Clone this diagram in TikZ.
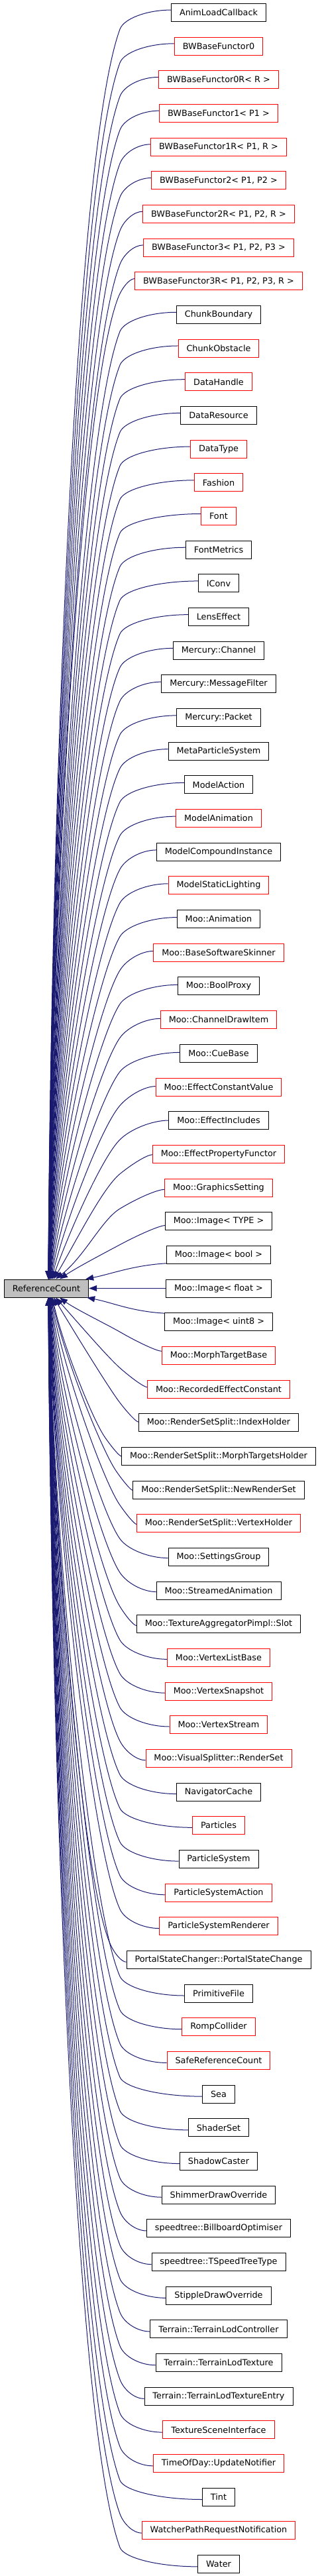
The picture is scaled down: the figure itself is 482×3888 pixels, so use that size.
\documentclass[tikz,border=0pt]{standalone}
\usepackage{fontspec}
\setmainfont{DejaVu Sans}
\usepackage{xcolor}
\usepackage{tikz}
\usetikzlibrary{arrows.meta,positioning,calc}

\definecolor{edgeblue}{HTML}{191970}
\definecolor{rootgray}{HTML}{BFBFBF}

\begin{document}
\begin{tikzpicture}[x=1pt, y=1pt, node distance=50.67pt,
  font=\fontsize{12.8}{15}\selectfont,
  cls/.style={draw=black, line width=0.9pt, rectangle, minimum height=27pt, inner xsep=12.5pt},
  redcls/.style={cls, draw=red},
  rootcls/.style={cls, fill=rootgray},
  inh/.style={draw=edgeblue, line width=1pt, -{Triangle[length=12pt,width=9pt]}, edgeblue}]
\useasboundingbox (0,0) rectangle (482,-3888);
\node[cls] (alc) at (330,-19) {AnimLoadCallback};
\node[redcls, below of=alc] (bf0) {BWBaseFunctor0};
\node[redcls, below of=bf0] (bf0r) {BWBaseFunctor0R< R >};
\node[redcls, below of=bf0r] (bf1) {BWBaseFunctor1< P1 >};
\node[redcls, below of=bf1] (bf1r) {BWBaseFunctor1R< P1, R >};
\node[redcls, below of=bf1r] (bf2) {BWBaseFunctor2< P1, P2 >};
\node[redcls, below of=bf2] (bf2r) {BWBaseFunctor2R< P1, P2, R >};
\node[redcls, below of=bf2r] (bf3) {BWBaseFunctor3< P1, P2, P3 >};
\node[redcls, below of=bf3] (bf3r) {BWBaseFunctor3R< P1, P2, P3, R >};
\node[cls, below of=bf3r] (chb) {ChunkBoundary};
\node[redcls, below of=chb] (cho) {ChunkObstacle};
\node[redcls, below of=cho] (dh) {DataHandle};
\node[cls, below of=dh] (dr) {DataResource};
\node[redcls, below of=dr] (dt) {DataType};
\node[redcls, below of=dt] (fsh) {Fashion};
\node[redcls, below of=fsh] (fnt) {Font};
\node[cls, below of=fnt] (fm) {FontMetrics};
\node[cls, below of=fm] (icv) {IConv};
\node[cls, below of=icv] (le) {LensEffect};
\node[cls, below of=le] (mch) {Mercury::Channel};
\node[cls, below of=mch] (mmf) {Mercury::MessageFilter};
\node[cls, below of=mmf] (mpk) {Mercury::Packet};
\node[cls, below of=mpk] (mps) {MetaParticleSystem};
\node[cls, below of=mps] (mac) {ModelAction};
\node[redcls, below of=mac] (man) {ModelAnimation};
\node[cls, below of=man] (mci) {ModelCompoundInstance};
\node[redcls, below of=mci] (msl) {ModelStaticLighting};
\node[cls, below of=msl] (moa) {Moo::Animation};
\node[redcls, below of=moa] (bss) {Moo::BaseSoftwareSkinner};
\node[cls, below of=bss] (bp) {Moo::BoolProxy};
\node[redcls, below of=bp] (cdi) {Moo::ChannelDrawItem};
\node[cls, below of=cdi] (cub) {Moo::CueBase};
\node[redcls, below of=cub] (ecv) {Moo::EffectConstantValue};
\node[cls, below of=ecv] (einc) {Moo::EffectIncludes};
\node[redcls, below of=einc] (epf) {Moo::EffectPropertyFunctor};
\node[redcls, below of=epf] (gs) {Moo::GraphicsSetting};
\node[cls, below of=gs] (imt) {Moo::Image< TYPE >};
\node[cls, below of=imt] (imb) {Moo::Image< bool >};
\node[cls, below of=imb] (imf) {Moo::Image< float >};
\node[cls, below of=imf] (imu) {Moo::Image< uint8 >};
\node[redcls, below of=imu] (mtb) {Moo::MorphTargetBase};
\node[redcls, below of=mtb] (rec) {Moo::RecordedEffectConstant};
\node[cls, below of=rec] (rih) {Moo::RenderSetSplit::IndexHolder};
\node[cls, below of=rih] (rmh) {Moo::RenderSetSplit::MorphTargetsHolder};
\node[cls, below of=rmh] (rnr) {Moo::RenderSetSplit::NewRenderSet};
\node[redcls, below of=rnr] (rvh) {Moo::RenderSetSplit::VertexHolder};
\node[cls, below of=rvh] (sg) {Moo::SettingsGroup};
\node[cls, below of=sg] (sa) {Moo::StreamedAnimation};
\node[cls, below of=sa] (tas) {Moo::TextureAggregatorPimpl::Slot};
\node[redcls, below of=tas] (vlb) {Moo::VertexListBase};
\node[redcls, below of=vlb] (vsn) {Moo::VertexSnapshot};
\node[redcls, below of=vsn] (vst) {Moo::VertexStream};
\node[redcls, below of=vst] (vsr) {Moo::VisualSplitter::RenderSet};
\node[cls, below of=vsr] (nc) {NavigatorCache};
\node[redcls, below of=nc] (pts) {Particles};
\node[cls, below of=pts] (ps) {ParticleSystem};
\node[redcls, below of=ps] (psa) {ParticleSystemAction};
\node[redcls, below of=psa] (psr) {ParticleSystemRenderer};
\node[cls, below of=psr] (pscg) {PortalStateChanger::PortalStateChange};
\node[cls, below of=pscg] (pf) {PrimitiveFile};
\node[redcls, below of=pf] (rmc) {RompCollider};
\node[redcls, below of=rmc] (src) {SafeReferenceCount};
\node[cls, below of=src] (sea) {Sea};
\node[cls, below of=sea] (ss) {ShaderSet};
\node[cls, below of=ss] (sc) {ShadowCaster};
\node[cls, below of=sc] (sdo) {ShimmerDrawOverride};
\node[cls, below of=sdo] (sbo) {speedtree::BillboardOptimiser};
\node[cls, below of=sbo] (stt) {speedtree::TSpeedTreeType};
\node[cls, below of=stt] (stdo) {StippleDrawOverride};
\node[cls, below of=stdo] (tlc) {Terrain::TerrainLodController};
\node[cls, below of=tlc] (tlt) {Terrain::TerrainLodTexture};
\node[cls, below of=tlt] (tle) {Terrain::TerrainLodTextureEntry};
\node[redcls, below of=tle] (tsi) {TextureSceneInterface};
\node[redcls, below of=tsi] (tun) {TimeOfDay::UpdateNotifier};
\node[cls, below of=tun] (tnt) {Tint};
\node[redcls, below of=tnt] (wpr) {WatcherPathRequestNotification};
\node[cls, below of=wpr] (wtr) {Water};
\node[rootcls, left of=imf, node distance=260pt] (rc) {ReferenceCount};
% classes above the base
\foreach \nm [count=\k] in {alc,bf0,bf0r,bf1,bf1r,bf2,bf2r,bf3,bf3r,chb,cho,dh,dr,dt,fsh,fnt,fm,icv,le,mch,mmf,mpk,mps,mac,man,mci,msl,moa,bss,bp,cdi,cub,ecv,einc,epf,gs,imt} {
  \pgfmathsetmacro{\xo}{2+36/(39-\k)}
  \pgfmathsetmacro{\yo}{4.5-22/(39-\k)}
  \draw[inh] let \p1=($(\nm.west)+(0,\yo)$), \p2=($(rc.north)+(\xo,0)$),
      \n1={(\y1)-29-(\y2)}, \n3={min(181,\x1-25)}, \n4={\n3-(\x2)},
      \n5={min(0.28+1.5*\n4/\n1, 0.8*((\x1)-\n3)/29)}, \n6={0.1*\n1+6},
      \n7={min(0.5*\n4, 0.5*\n4*(\n4/\n1), 0.26*\n5*\n1)} in
    (\p1) .. controls ({\x1-0.55*((\x1)-\n3-29*\n5)},\y1) and ({\n3+16*\n5},{\y1-13}) .. (\n3,{\y1-29})
    .. controls ({\n3-\n5*\n6},{\y1-29-\n6}) and ({\x2+\n7},{\y2+0.33*\n1}) .. (\p2);
}
% classes below the base
\foreach \nm [count=\k] in {mtb,rec,rih,rmh,rnr,rvh,sg,sa,tas,vlb,vsn,vst,vsr,nc,pts,ps,psa,psr,pscg,pf,rmc,src,sea,ss,sc,sdo,sbo,stt,stdo,tlc,tlt,tle,tsi,tun,tnt,wpr,wtr} {
  \pgfmathsetmacro{\xo}{2+36/(\k+1)}
  \pgfmathsetmacro{\yo}{4.5-22/(\k+1)}
  \draw[inh] let \p1=($(\nm.west)+(0,-\yo)$), \p2=($(rc.south)+(\xo,0)$),
      \n1={(\y2)-(\y1)-29}, \n3={min(181,\x1-25)}, \n4={\n3-(\x2)},
      \n5={min(0.28+1.5*\n4/\n1, 0.8*((\x1)-\n3)/29)}, \n6={0.1*\n1+6},
      \n7={min(0.5*\n4, 0.5*\n4*(\n4/\n1), 0.26*\n5*\n1)} in
    (\p1) .. controls ({\x1-0.55*((\x1)-\n3-29*\n5)},\y1) and ({\n3+16*\n5},{\y1+13}) .. (\n3,{\y1+29})
    .. controls ({\n3-\n5*\n6},{\y1+29+\n6}) and ({\x2+\n7},{\y2-0.33*\n1}) .. (\p2);
}
% the three next to it
\draw[inh] ($(imb.west)+(0,-13)$) .. controls +(-50,-3) and +(40,8) .. ($(rc.north east)+(-5,0)$);
\draw[inh] (imf.west) -- (rc.east);
\draw[inh] ($(imu.west)+(0,13)$) .. controls +(-50,3) and +(40,-8) .. ($(rc.south east)+(-3,0)$);
\end{tikzpicture}
\end{document}
